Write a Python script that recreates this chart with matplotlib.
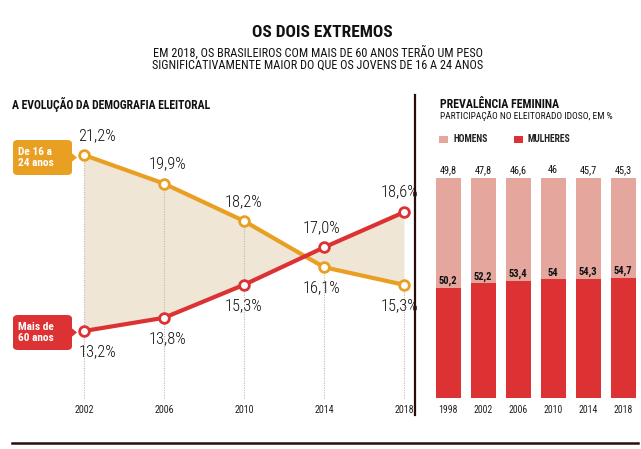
import matplotlib
matplotlib.use("Agg")
import matplotlib.pyplot as plt
from matplotlib.patches import FancyBboxPatch, Polygon, Rectangle
from matplotlib.lines import Line2D

# dados
anos = [2002, 2006, 2010, 2014, 2018]
jovens = [21.2, 19.9, 18.2, 16.1, 15.3]
idosos = [13.2, 13.8, 15.3, 17.0, 18.6]
jovens_lbl = ["21,2%", "19,9%", "18,2%", "16,1%", "15,3%"]
idosos_lbl = ["13,2%", "13,8%", "15,3%", "17,0%", "18,6%"]

anos_bar = ["1998", "2002", "2006", "2010", "2014", "2018"]
mulheres = [50.2, 52.2, 53.4, 54, 54.3, 54.7]
homens = [49.8, 47.8, 46.6, 46, 45.7, 45.3]

LARANJA = "#e99f22"
VERMELHO = "#dc3234"
BEGE = "#efe6d5"
ROSA = "#e5a69e"
ESCURO = "#2a0c0c"
NARROW = ["Roboto Condensed", "Archivo Narrow", "DejaVu Sans"]

W, H = 641, 449
fig = plt.figure(figsize=(W / 100, H / 100), dpi=100)


def fx(px):
    return px / W


def fy(py):
    return 1 - py / H


def axes_px(x0, y0, x1, y1):
    return fig.add_axes([fx(x0), fy(y1), fx(x1) - fx(x0), fy(y0) - fy(y1)])


# titulos
fig.text(fx(322), fy(32.5), "OS DOIS EXTREMOS", ha="center", va="center",
         fontsize=12.5, fontweight="bold", family=NARROW, color="#111")
fig.text(fx(318), fy(58.5),
         "EM 2018, OS BRASILEIROS COM MAIS DE 60 ANOS TERÃO UM PESO\n"
         "SIGNIFICATIVAMENTE MAIOR DO QUE OS JOVENS DE 16 A 24 ANOS",
         ha="center", va="center", fontsize=8.8, family=NARROW, color="#111",
         linespacing=0.85)
fig.text(fx(12), fy(104.5), "A EVOLUÇÃO DA DEMOGRAFIA ELEITORAL", ha="left", va="center",
         fontsize=8.4, fontweight="bold", family=NARROW, color="#111")
fig.text(fx(440), fy(104), "PREVALÊNCIA FEMININA", ha="left", va="center",
         fontsize=8.6, fontweight="bold", family=NARROW, color="#111")
fig.text(fx(440), fy(116), "PARTICIPAÇÃO NO ELEITORADO IDOSO, EM %", ha="left", va="center",
         fontsize=6.8, family=NARROW, color="#111")

# linhas divisorias
fig.add_artist(Line2D([fx(415), fx(415)], [fy(95), fy(415)], color=ESCURO, lw=1.6))
fig.add_artist(Line2D([fx(12), fx(638)], [fy(443), fy(443)], color=ESCURO, lw=1.8))

# grafico de linhas
ax = axes_px(12, 95, 415, 420)
ax.set_xlim(1998.4, 2018.55)
ax.set_ylim(9.155, 23.927)
ax.axis("off")

for a, j in zip(anos, jovens):
    ax.plot([a, a], [10.155, j], color="#bbbbbb", lw=0.8, ls=(0, (1, 1.2)), zorder=1)
    ax.text(a, 9.61, str(a), ha="center", va="center", fontsize=7.2,
            family=NARROW, color="#222")

ax.fill_between(anos, jovens, idosos, color=BEGE, lw=0, zorder=0)
ax.plot(anos, jovens, color=LARANJA, lw=3, marker="o", ms=7, mfc="white",
        mec=LARANJA, mew=2, zorder=3)
ax.plot(anos, idosos, color=VERMELHO, lw=3, marker="o", ms=7, mfc="white",
        mec=VERMELHO, mew=2, zorder=4)

# deslocamento horizontal dos rotulos (pt)
dx = [9.5, 2.5, 0, -1.5, -3.5]
pct = dict(fontsize=11.8, family=NARROW, fontweight="light", color="#111",
           ha="center", va="center", textcoords="offset points")
for i, a in enumerate(anos):
    if i < 3:
        ax.annotate(jovens_lbl[i], (a, jovens[i]), xytext=(dx[i], 14), **pct)
        ax.annotate(idosos_lbl[i], (a, idosos[i]), xytext=(dx[i], -15), **pct)
    else:
        ax.annotate(idosos_lbl[i], (a, idosos[i]), xytext=(dx[i], 14.5), **pct)
        ax.annotate(jovens_lbl[i], (a, jovens[i]), xytext=(dx[i], -15), **pct)


def caixa(y0, y1, cor, texto):
    box = FancyBboxPatch((fx(13), fy(y1)), fx(72) - fx(13), fy(y0) - fy(y1),
                         boxstyle="round,pad=0,rounding_size=0.008",
                         transform=fig.transFigure, fc=cor, ec="none")
    fig.add_artist(box)
    ym = (y0 + y1) / 2
    tri = Polygon([(fx(71), fy(ym - 5)), (fx(77), fy(ym)), (fx(71), fy(ym + 5))],
                  closed=True, transform=fig.transFigure, fc=cor, ec="none")
    fig.add_artist(tri)
    fig.text(fx(18), fy(ym), texto, ha="left", va="center", fontsize=8.2,
             fontweight="bold", family=NARROW, color="white", linespacing=1.05)


caixa(140, 175, LARANJA, "De 16 a\n24 anos")
caixa(315, 350, VERMELHO, "Mais de\n60 anos")

# grafico de barras
bx = axes_px(430, 178, 641, 398)
x = list(range(len(anos_bar)))
bx.set_xlim(-0.52, 5.51)
bx.set_ylim(0, 100)
bx.axis("off")
bx.bar(x, mulheres, width=0.72, color=VERMELHO, lw=0)
bx.bar(x, homens, bottom=mulheres, width=0.72, color=ROSA, lw=0)
for i in x:
    bx.text(i, 103.6, f"{homens[i]:g}".replace(".", ","), ha="center", va="center",
            fontsize=7.4, family=NARROW, color="#111", clip_on=False)
    bx.text(i, mulheres[i] + 3, f"{mulheres[i]:g}".replace(".", ","), ha="center",
            va="center", fontsize=7.6, fontweight="bold", family=NARROW, color="#111")
    bx.text(i, -5.5, anos_bar[i], ha="center", va="center", fontsize=7,
            family=NARROW, color="#222", clip_on=False)

# legenda
fig.add_artist(Rectangle((fx(439), fy(143)), fx(448) - fx(439), fy(136) - fy(143),
                         transform=fig.transFigure, fc=ROSA, ec="none"))
fig.text(fx(453), fy(139.5), "HOMENS", ha="left", va="center", fontsize=6.9,
         fontweight="bold", family=NARROW, color="#222")
fig.add_artist(Rectangle((fx(514), fy(143)), fx(523) - fx(514), fy(136) - fy(143),
                         transform=fig.transFigure, fc=VERMELHO, ec="none"))
fig.text(fx(528), fy(139.5), "MULHERES", ha="left", va="center", fontsize=6.9,
         fontweight="bold", family=NARROW, color="#222")

fig.savefig("out.png", dpi=100)
